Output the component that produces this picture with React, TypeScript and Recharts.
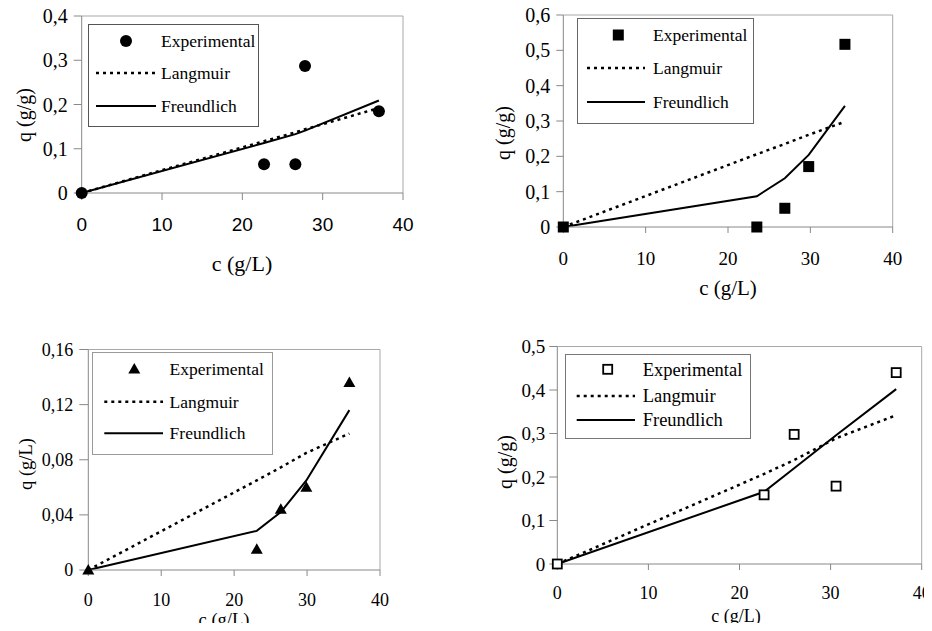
import type { ReactElement } from "react";
import {
  ComposedChart,
  Line,
  Scatter,
  XAxis,
  YAxis,
  ReferenceLine,
  Legend,
  Label,
} from "recharts";

// concentration c (g/L) and fitted / measured uptake q, one set per panel
const c1 = [0, 22.7, 26.6, 27.8, 37.0];
const exp1 = [0, 0.065, 0.065, 0.287, 0.185];
const lang1 = [0, 0.117, 0.137, 0.144, 0.192];
const freu1 = [0, 0.113, 0.133, 0.141, 0.209];

const c2 = [0, 23.5, 26.9, 29.8, 34.2];
const exp2 = [0, 0, 0.053, 0.171, 0.517];
const lang2 = [0, 0.206, 0.235, 0.261, 0.298];
const freu2 = [0, 0.087, 0.138, 0.204, 0.343];

const c3 = [0, 23.1, 26.4, 29.9, 35.8];
const exp3 = [0, 0.015, 0.044, 0.06, 0.136];
const lang3 = [0, 0.065, 0.0745, 0.085, 0.099];
const freu3 = [0, 0.0284, 0.042, 0.065, 0.116];

const c4 = [0, 22.7, 26.0, 30.6, 37.2];
const exp4 = [0, 0.159, 0.298, 0.179, 0.44];
const lang4 = [0, 0.207, 0.239, 0.289, 0.342];
const freu4 = [0, 0.166, 0.22, 0.296, 0.402];

const xTicks = [0, 10, 20, 30, 40];
const yTicks1 = [0, 0.1, 0.2, 0.3, 0.4];
const yTicks2 = [0, 0.1, 0.2, 0.3, 0.4, 0.5, 0.6];
const yTicks3 = [0, 0.04, 0.08, 0.12, 0.16];
const yTicks4 = [0, 0.1, 0.2, 0.3, 0.4, 0.5];

const SERIF = "'Liberation Serif', 'Times New Roman', serif";
const SANS = "'Liberation Sans', Arial, sans-serif";
const AXIS = "#888";
const FRAME = "#a8a8a8";
const YW = 60;
const XH = 40;

type MarkerKind = "circle" | "square" | "triangle" | "open";

function Marker({ kind, cx, cy }: { kind: MarkerKind; cx: number; cy: number }): ReactElement | null {
  if (cx == null || cy == null) return null;
  if (kind === "circle") return <circle cx={cx} cy={cy} r={6} fill="#000" />;
  if (kind === "square") return <rect x={cx - 5.5} y={cy - 5.5} width={11} height={11} fill="#000" />;
  if (kind === "triangle")
    return <polygon points={`${cx},${cy - 6} ${cx - 6},${cy + 4.5} ${cx + 6},${cy + 4.5}`} fill="#000" />;
  return <rect x={cx - 4.5} y={cy - 4.5} width={9} height={9} fill="#fff" stroke="#000" strokeWidth={1.8} />;
}

const toRows = (c: number[], exp: number[], lang: number[], freu: number[]) =>
  c.map((x, i) => ({ c: x, exp: exp[i], lang: lang[i], freu: freu[i] }));

const fmt = (v: number) => (v === 0 ? "0" : String(v).replace(".", ","));

interface PanelSpec {
  box: [number, number, number, number];
  plot: [number, number, number, number];
  rows: { c: number; exp: number; lang: number; freu: number }[];
  yMax: number;
  yTicks: number[];
  yTitle: string;
  marker: MarkerKind;
  yTick: { size: number; margin: number; font: number };
  xTick: { size: number; margin: number; font: number; family: string };
  xTitlePos: [number, number, number];
  yTitlePos: [number, number, number];
  legend: {
    box: [number, number, number, number];
    marker: [number, number];
    textX: number;
    rowsY: [number, number, number];
    line: [number, number];
    font: number;
    border: string;
  };
}

const panels: PanelSpec[] = [
  {
    box: [0, 0, 466, 315],
    plot: [81.7, 16, 403, 193],
    rows: toRows(c1, exp1, lang1, freu1),
    yMax: 0.4,
    yTicks: yTicks1,
    yTitle: "q (g/g)",
    marker: "circle",
    yTick: { size: 8, margin: 6, font: 20 },
    xTick: { size: 7, margin: 18, font: 19, family: SANS },
    xTitlePos: [242, 271, 22],
    yTitlePos: [23.5, 115, 20],
    legend: {
      box: [88, 24, 171, 103],
      marker: [38, 17],
      textX: 73,
      rowsY: [17, 49, 82],
      line: [8, 68],
      font: 17.5,
      border: "#555",
    },
  },
  {
    box: [466, 0, 466, 315],
    plot: [563.3, 15, 892.7, 227],
    rows: toRows(c2, exp2, lang2, freu2),
    yMax: 0.6,
    yTicks: yTicks2,
    yTitle: "q (g/g)",
    marker: "square",
    yTick: { size: 7, margin: 6, font: 20 },
    xTick: { size: 6, margin: 19, font: 19, family: SERIF },
    xTitlePos: [728, 295, 21],
    yTitlePos: [503, 133, 20],
    legend: {
      box: [576.7, 18, 177, 106],
      marker: [41.3, 17],
      textX: 76,
      rowsY: [17, 50, 84],
      line: [10, 68],
      font: 17.5,
      border: "#666",
    },
  },
  {
    box: [0, 315, 466, 316],
    plot: [88.3, 349.5, 380, 570],
    rows: toRows(c3, exp3, lang3, freu3),
    yMax: 0.16,
    yTicks: yTicks3,
    yTitle: "q (g/L)",
    marker: "triangle",
    yTick: { size: 9, margin: 6, font: 18 },
    xTick: { size: 6, margin: 17, font: 18, family: SERIF },
    xTitlePos: [224, 626, 18.5],
    yTitlePos: [26, 464, 18.5],
    legend: {
      box: [91.7, 352, 181, 103],
      marker: [42.3, 17],
      textX: 77.6,
      rowsY: [17, 49.7, 81.3],
      line: [12.3, 71],
      font: 17.5,
      border: "#999",
    },
  },
  {
    box: [466, 315, 466, 316],
    plot: [557.3, 346.5, 921.7, 564],
    rows: toRows(c4, exp4, lang4, freu4),
    yMax: 0.5,
    yTicks: yTicks4,
    yTitle: "q (g/g)",
    marker: "open",
    yTick: { size: 8, margin: 4, font: 19 },
    xTick: { size: 6, margin: 16, font: 18, family: SERIF },
    xTitlePos: [736, 622, 18],
    yTitlePos: [505, 462, 20],
    legend: {
      box: [565, 354, 186, 85],
      marker: [42.7, 15.3],
      textX: 77.7,
      rowsY: [15.3, 42, 66],
      line: [11.7, 70],
      font: 18.5,
      border: "#777",
    },
  },
];

function LegendBox({ p }: { p: PanelSpec }): ReactElement {
  const lg = p.legend;
  const [, , w, h] = lg.box;
  const names = ["Experimental", "Langmuir", "Freundlich"];
  return (
    <svg width={w} height={h} style={{ display: "block" }}>
      <rect x={0.5} y={0.5} width={w - 1} height={h - 1} fill="#fff" stroke={lg.border} strokeWidth={1} />
      <Marker kind={p.marker} cx={lg.marker[0]} cy={lg.marker[1]} />
      <line x1={lg.line[0]} x2={lg.line[1]} y1={lg.rowsY[1]} y2={lg.rowsY[1]} stroke="#000" strokeWidth={2.5} strokeDasharray="3 4" />
      <line x1={lg.line[0]} x2={lg.line[1]} y1={lg.rowsY[2]} y2={lg.rowsY[2]} stroke="#000" strokeWidth={2} />
      {names.map((n, i) => (
        <text key={n} x={lg.textX} y={lg.rowsY[i]} dy="0.35em" fontFamily={SERIF} fontSize={lg.font} fill="#000">
          {n}
        </text>
      ))}
    </svg>
  );
}

function Panel({ p }: { p: PanelSpec }): ReactElement {
  const [bl, bt, bw, bh] = p.box;
  const [L, T, R, B] = p.plot;
  const margin = { left: L - bl - YW, top: T - bt, right: bl + bw - R, bottom: bt + bh - B - XH };
  const [xtx, xty, xtf] = p.xTitlePos;
  const [ytx, yty, ytf] = p.yTitlePos;
  return (
    <div style={{ position: "absolute", left: bl, top: bt }}>
      <ComposedChart width={bw} height={bh} data={p.rows} margin={margin}>
        <XAxis
          type="number"
          dataKey="c"
          domain={[0, 40]}
          ticks={xTicks}
          height={XH}
          stroke={AXIS}
          tickSize={p.xTick.size}
          tickMargin={p.xTick.margin}
          tick={{ fill: "#000", fontSize: p.xTick.font, fontFamily: p.xTick.family }}
        >
          <Label
            content={() => (
              <text x={xtx - bl} y={xty - bt} textAnchor="middle" fontFamily={SERIF} fontSize={xtf} fill="#000">
                c (g/L)
              </text>
            )}
          />
        </XAxis>
        <YAxis
          type="number"
          domain={[0, p.yMax]}
          ticks={p.yTicks}
          width={YW}
          stroke={AXIS}
          tickSize={p.yTick.size}
          tickMargin={p.yTick.margin}
          tickFormatter={fmt}
          tick={{ fill: "#000", fontSize: p.yTick.font, fontFamily: SERIF }}
          interval={0}
        >
          <Label
            content={() => (
              <text
                x={ytx - bl}
                y={yty - bt}
                dy="0.35em"
                transform={`rotate(-90 ${ytx - bl} ${yty - bt})`}
                textAnchor="middle"
                fontFamily={SERIF}
                fontSize={ytf}
                fill="#000"
              >
                {p.yTitle}
              </text>
            )}
          />
        </YAxis>
        <ReferenceLine y={p.yMax} stroke={FRAME} strokeWidth={1} />
        <ReferenceLine x={40} stroke={FRAME} strokeWidth={1} />
        <Legend
          layout="vertical"
          align="center"
          verticalAlign="middle"
          wrapperStyle={{
            left: p.legend.box[0] - bl,
            top: p.legend.box[1] - bt,
            width: p.legend.box[2],
            height: p.legend.box[3],
          }}
          content={() => <LegendBox p={p} />}
        />
        <Line
          type="linear"
          dataKey="lang"
          stroke="#000"
          strokeWidth={2.5}
          strokeDasharray="3 4"
          dot={false}
          activeDot={false}
          isAnimationActive={false}
        />
        <Line
          type="linear"
          dataKey="freu"
          stroke="#000"
          strokeWidth={2}
          dot={false}
          activeDot={false}
          isAnimationActive={false}
        />
        <Scatter
          dataKey="exp"
          isAnimationActive={false}
          shape={(props: any) => <Marker kind={p.marker} cx={props.cx} cy={props.cy} />}
        />
      </ComposedChart>
    </div>
  );
}

export default function App(): ReactElement {
  return (
    <div
      style={{
        position: "relative",
        width: 932,
        height: 631,
        margin: -8,
        background: "#fff",
        overflow: "hidden",
      }}
    >
      {panels.map((p, i) => (
        <Panel key={i} p={p} />
      ))}
    </div>
  );
}
